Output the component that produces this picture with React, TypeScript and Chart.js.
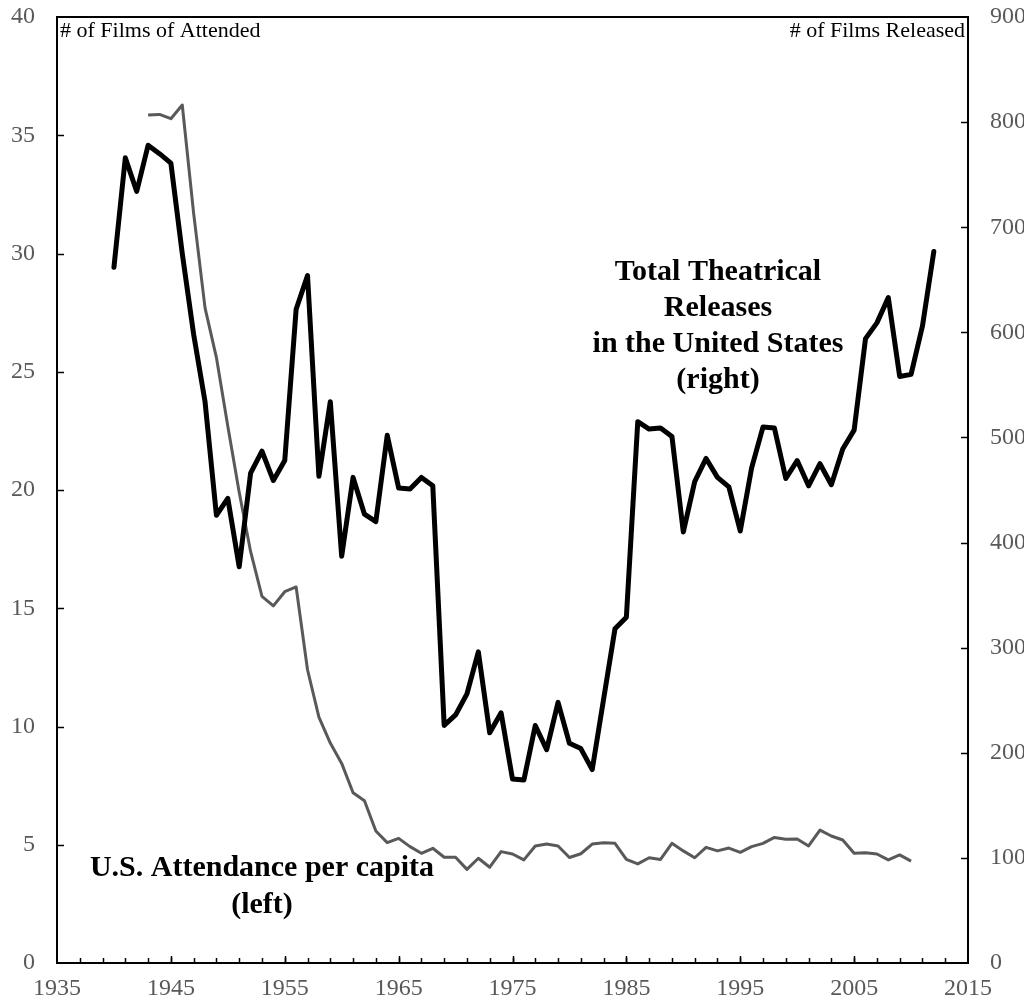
import { useEffect, useRef } from "react";
import { Chart, registerables } from "chart.js";

Chart.register(...registerables);

const years = [
  1940, 1941, 1942, 1943, 1944, 1945, 1946, 1947, 1948, 1949,
  1950, 1951, 1952, 1953, 1954, 1955, 1956, 1957, 1958, 1959,
  1960, 1961, 1962, 1963, 1964, 1965, 1966, 1967, 1968, 1969,
  1970, 1971, 1972, 1973, 1974, 1975, 1976, 1977, 1978, 1979,
  1980, 1981, 1982, 1983, 1984, 1985, 1986, 1987, 1988, 1989,
  1990, 1991, 1992, 1993, 1994, 1995, 1996, 1997, 1998, 1999,
  2000, 2001, 2002, 2003, 2004, 2005, 2006, 2007, 2008, 2009,
  2010, 2011, 2012,
];

// Total theatrical releases (right axis)
const releases = [
  662, 766, 734, 778, 770, 761, 675, 598, 534, 426,
  442, 377, 466, 487, 459, 478, 622, 654, 463, 534,
  387, 462, 427, 420, 502, 452, 451, 462, 454, 226,
  236, 256, 296, 219, 238, 175, 174, 226, 203, 248,
  209, 204, 184, 251, 318, 329, 515, 508, 509, 501,
  410, 458, 480, 462, 453, 411, 471, 510, 509, 461,
  478, 454, 475, 455, 489, 507, 594, 609, 633, 558,
  560, 606, 677,
];

// U.S. attendance per capita (left axis)
const attendance = [
  null, null, null, 35.86, 35.88, 35.7, 36.28, 31.7, 27.7, 25.6,
  22.7, 19.9, 17.4, 15.5, 15.1, 15.7, 15.9, 12.4, 10.4, 9.3,
  8.44, 7.2, 6.86, 5.58, 5.09, 5.27, 4.92, 4.64, 4.85, 4.47,
  4.47, 3.96, 4.43, 4.05, 4.71, 4.61, 4.36, 4.95, 5.03, 4.95,
  4.46, 4.62, 5.03, 5.08, 5.06, 4.38, 4.19, 4.45, 4.38, 5.06,
  4.74, 4.45, 4.89, 4.74, 4.86, 4.68, 4.92, 5.06, 5.31, 5.23,
  5.24, 4.95, 5.62, 5.37, 5.2, 4.64, 4.66, 4.61, 4.36, 4.57,
  4.31, null, null,
];

const xMin = 1935;
const xMax = 2015;
const leftMax = 40;
const rightMax = 900;

const releasesLabel = ["Total Theatrical", "Releases", "in the United States", "(right)"];
const attendanceLabel = ["U.S. Attendance per capita", "(left)"];
const leftTitle = "# of Films of Attended";
const rightTitle = "# of Films Released";

const SERIF = "'Liberation Serif', 'DejaVu Serif', serif";

const framePlugin = {
  id: "frame",
  afterDraw(chart: any) {
    const { ctx, chartArea } = chart;
    const { left, right, top, bottom } = chartArea;
    ctx.save();
    ctx.strokeStyle = "#000";
    ctx.lineWidth = 1.5;
    const xs = chart.scales.x;
    for (let yr = xMin + 2; yr < xMax; yr += 2) {
      const px = Math.round(xs.getPixelForValue(yr)) + 0.5;
      ctx.beginPath();
      ctx.moveTo(px, bottom);
      ctx.lineTo(px, bottom - 5);
      ctx.stroke();
    }
    for (let yr = xMin + 10; yr < xMax; yr += 10) {
      const px = Math.round(xs.getPixelForValue(yr)) + 0.5;
      ctx.beginPath();
      ctx.moveTo(px, bottom);
      ctx.lineTo(px, bottom - 7);
      ctx.stroke();
    }
    const yl = chart.scales.y;
    for (let v = 5; v < leftMax; v += 5) {
      const py = Math.round(yl.getPixelForValue(v)) + 0.5;
      ctx.beginPath();
      ctx.moveTo(left, py);
      ctx.lineTo(left + 7, py);
      ctx.stroke();
    }
    const yr2 = chart.scales.y1;
    for (let v = 100; v < rightMax; v += 100) {
      const py = Math.round(yr2.getPixelForValue(v)) + 0.5;
      ctx.beginPath();
      ctx.moveTo(right, py);
      ctx.lineTo(right - 7, py);
      ctx.stroke();
    }
    ctx.lineWidth = 2;
    ctx.strokeRect(left, top, right - left, bottom - top);

    ctx.fillStyle = "#000";
    ctx.font = `22px ${SERIF}`;
    ctx.textBaseline = "middle";
    ctx.textAlign = "left";
    ctx.fillText(leftTitle, left + 3, top + 14);
    ctx.textAlign = "right";
    ctx.fillText(rightTitle, right - 3, top + 14);

    ctx.font = `bold 30px ${SERIF}`;
    ctx.textAlign = "center";
    const rx = left + 661;
    releasesLabel.forEach((t, i) => ctx.fillText(t, rx, top + 255 + i * 36));
    const ax = left + 205;
    attendanceLabel.forEach((t, i) => ctx.fillText(t, ax, top + 851 + i * 37));
    ctx.restore();
  },
};

const noPadY = (w: number) => (s: any) => {
  s.width = w;
  s.paddingTop = 0;
  s.paddingBottom = 0;
};

export default function App() {
  const ref = useRef<HTMLCanvasElement | null>(null);
  useEffect(() => {
    if (!ref.current) return;
    const relPts = years.map((y, i) => ({ x: y, y: releases[i] }));
    const attPts = years.map((y, i) => ({ x: y, y: attendance[i] }));
    const chart = new Chart(ref.current, {
      type: "line",
      data: {
        datasets: [
          {
            label: "Total Theatrical Releases",
            data: relPts as any,
            yAxisID: "y1",
            borderColor: "#000",
            borderWidth: 5,
            pointRadius: 0,
            tension: 0,
            borderJoinStyle: "round",
            borderCapStyle: "round",
          },
          {
            label: "U.S. Attendance per capita",
            data: attPts as any,
            yAxisID: "y",
            borderColor: "#595959",
            borderWidth: 3,
            pointRadius: 0,
            tension: 0,
            spanGaps: false,
            borderJoinStyle: "round",
          },
        ],
      },
      options: {
        animation: false,
        responsive: false,
        devicePixelRatio: 1,
        layout: { padding: { top: 9, left: 0, right: 0, bottom: 0 } },
        plugins: { legend: { display: false }, tooltip: { enabled: false } },
        scales: {
          x: {
            type: "linear",
            min: xMin,
            max: xMax,
            grid: { display: false, drawTicks: false },
            border: { display: false },
            ticks: {
              stepSize: 10,
              autoSkip: false,
              maxRotation: 0,
              padding: 11,
              color: "#595959",
              font: { family: SERIF, size: 24 },
              callback: (v: any) => String(v),
            },
            afterFit: (s: any) => {
              s.height = 35;
              s.paddingLeft = 0;
              s.paddingRight = 0;
            },
          },
          y: {
            position: "left",
            min: 0,
            max: leftMax,
            grid: { display: false, drawTicks: false },
            border: { display: false },
            ticks: {
              stepSize: 5,
              padding: 22,
              color: "#595959",
              font: { family: SERIF, size: 24 },
            },
            afterFit: noPadY(49),
          },
          y1: {
            position: "right",
            min: 0,
            max: rightMax,
            grid: { display: false, drawTicks: false },
            border: { display: false },
            ticks: {
              stepSize: 100,
              padding: 22,
              color: "#595959",
              font: { family: SERIF, size: 24 },
            },
            afterFit: noPadY(64),
          },
        },
      },
      plugins: [framePlugin],
    });
    return () => chart.destroy();
  }, []);
  return (
    <div style={{ width: 1024, height: 990 }}>
      <canvas ref={ref} width={1024} height={990} style={{ display: "block" }} />
    </div>
  );
}
